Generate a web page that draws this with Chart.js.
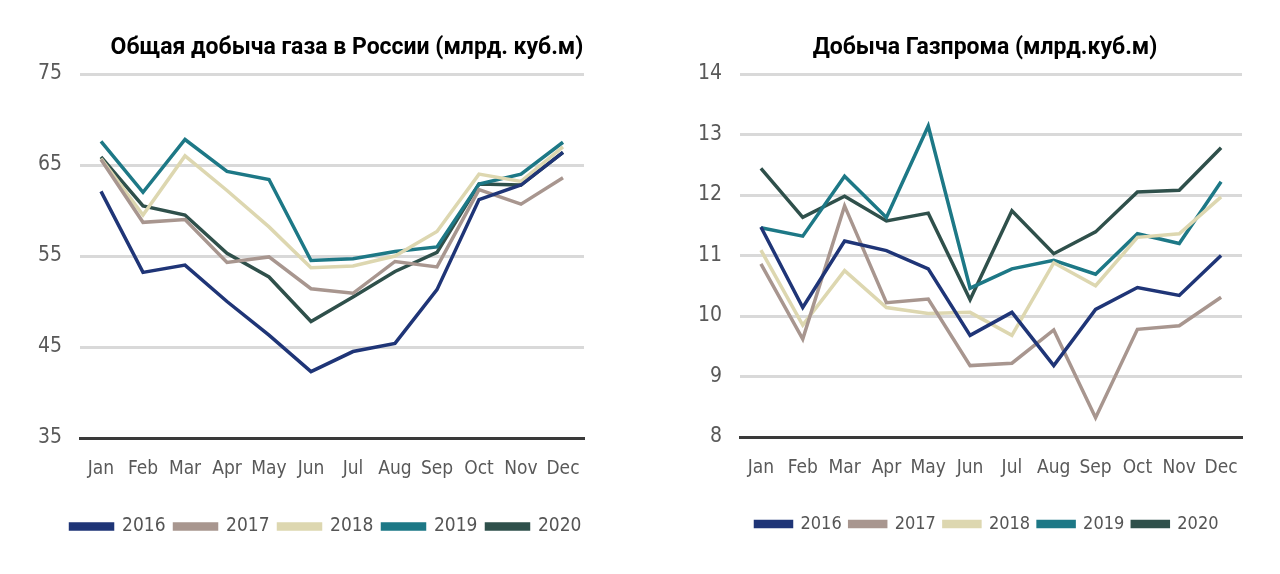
<!DOCTYPE html>
<html>
<head>
<meta charset="utf-8">
<script src="https://cdn.jsdelivr.net/npm/chart.js@4/dist/chart.umd.min.js"></script>
<style>
  html, body { margin: 0; padding: 0; background: #fff; }
  #wrap { position: relative; width: 1280px; height: 574px; }
  .box { position: absolute; top: 0; width: 640px; height: 574px; }
  .titulo {
    position: absolute; top: 32px; margin: 0;
    font-family: 'Roboto', 'Open Sans', sans-serif; font-weight: bold; font-size: 23px;
    line-height: 30px; color: #000; white-space: nowrap;
    transform: translateX(-50%);
  }
</style>
</head>
<body>
<div id="wrap">
  <div class="box" style="left:0"><canvas id="chartRussia"></canvas></div>
  <div class="box" style="left:640px"><canvas id="chartGazprom"></canvas></div>
  <h2 class="titulo" style="left:347px">Общая добыча газа в России (млрд. куб.м)</h2>
  <h2 class="titulo" style="left:985px">Добыча Газпрома (млрд.куб.м)</h2>
</div>
<script>
// ===== DADOS =====
const meses = ['Jan', 'Feb', 'Mar', 'Apr', 'May', 'Jun', 'Jul', 'Aug', 'Sep', 'Oct', 'Nov', 'Dec'];
const anos = ['2016', '2017', '2018', '2019', '2020'];
const cores = ['#1f3577', '#a8968f', '#ddd7b0', '#1d7886', '#2f504b'];

// Общая добыча газа в России
const russia2016 = [62.1, 53.2, 54.0, 50.0, 46.3, 42.3, 44.5, 45.4, 51.3, 61.2, 62.8, 66.4];
const russia2017 = [65.6, 58.7, 59.0, 54.3, 54.9, 51.4, 50.9, 54.4, 53.8, 62.3, 60.7, 63.6];
const russia2018 = [65.7, 59.5, 66.0, 62.2, 58.2, 53.7, 53.9, 55.0, 57.7, 64.0, 63.2, 67.0];
const russia2019 = [67.6, 62.0, 67.8, 64.3, 63.4, 54.5, 54.7, 55.5, 56.0, 62.9, 64.0, 67.5];
const russia2020 = [65.9, 60.5, 59.5, 55.3, 52.7, 47.8, 50.5, 53.3, 55.4, 62.9, 62.8, 66.4];
const russiaTicks = { min: 35, max: 75, step: 10 };

// Добыча Газпрома
const gazprom2016 = [11.47, 10.14, 11.24, 11.08, 10.78, 9.68, 10.06, 9.18, 10.11, 10.47, 10.34, 11.00];
const gazprom2017 = [10.86, 9.62, 11.82, 10.22, 10.28, 9.18, 9.22, 9.77, 8.32, 9.78, 9.84, 10.31];
const gazprom2018 = [11.09, 9.85, 10.75, 10.14, 10.04, 10.06, 9.68, 10.88, 10.50, 11.30, 11.36, 11.97];
const gazprom2019 = [11.46, 11.32, 12.31, 11.63, 13.14, 10.46, 10.78, 10.92, 10.69, 11.36, 11.20, 12.22];
const gazprom2020 = [12.44, 11.63, 11.98, 11.57, 11.70, 10.27, 11.74, 11.03, 11.39, 12.05, 12.08, 12.78];
const gazpromTicks = { min: 8, max: 14, step: 1 };

const fonte = "'Liberation Sans Narrow', 'DejaVu Sans Condensed', 'Roboto', sans-serif";

// desloca a legenda na horizontal (a original não fica centrada)
const deslocarLegenda = {
    id: 'deslocarLegenda',
    afterLayout(chart, args, opts) {
        const legenda = chart.legend;
        if (!legenda || !opts.dx) return;
        legenda.left += opts.dx;
        legenda.right += opts.dx;
    }
};

// ===== CRIAR GRÁFICO =====
function criarGrafico(id, series, escala, margens) {
    const ctx = document.getElementById(id).getContext('2d');
    return new Chart(ctx, {
        type: 'line',
        data: {
            labels: meses,
            datasets: series.map((dados, i) => ({
                label: anos[i],
                data: dados,
                borderColor: cores[i],
                backgroundColor: cores[i],
                borderWidth: 3.5,
                pointRadius: 0,
                tension: 0,
                fill: false
            }))
        },
        plugins: [deslocarLegenda],
        options: {
            responsive: true,
            maintainAspectRatio: false,
            animation: false,
            layout: { padding: { left: margens.left, right: margens.right, top: 74, bottom: margens.bottom } },
            plugins: {
                title: { display: false },
                deslocarLegenda: { dx: margens.dx },
                legend: {
                    position: 'bottom',
                    labels: {
                        boxWidth: margens.caixa,
                        boxHeight: 5,
                        padding: margens.espaco,
                        color: '#555',
                        font: { family: fonte, size: margens.letra }
                    }
                },
                tooltip: { enabled: false }
            },
            scales: {
                x: {
                    offset: true,
                    afterFit: (s) => { s.height = 70; },
                    grid: { display: false, drawTicks: false },
                    border: { color: '#3a3a3a', width: 3 },
                    ticks: {
                        color: '#595959',
                        padding: 20,
                        maxRotation: 0,
                        autoSkip: false,
                        font: { family: fonte, size: 19 }
                    }
                },
                y: {
                    min: escala.min,
                    max: escala.max,
                    afterFit: (s) => { s.width = 60; },
                    grid: { color: '#d9d9d9', lineWidth: 3, drawTicks: false },
                    border: { display: false },
                    ticks: {
                        stepSize: escala.step,
                        color: '#595959',
                        padding: 18,
                        font: { family: fonte, size: 21 }
                    }
                }
            }
        }
    });
}

document.addEventListener('DOMContentLoaded', function() {
    criarGrafico('chartRussia',
        [russia2016, russia2017, russia2018, russia2019, russia2020], russiaTicks,
        { left: 20, right: 56, bottom: 28, dx: 24, caixa: 42, letra: 19, espaco: 9 });
    criarGrafico('chartGazprom',
        [gazprom2016, gazprom2017, gazprom2018, gazprom2019, gazprom2020], gazpromTicks,
        { left: 40, right: 38, bottom: 31, dx: 26, caixa: 36, letra: 18, espaco: 8 });
});
</script>
</body>
</html>
